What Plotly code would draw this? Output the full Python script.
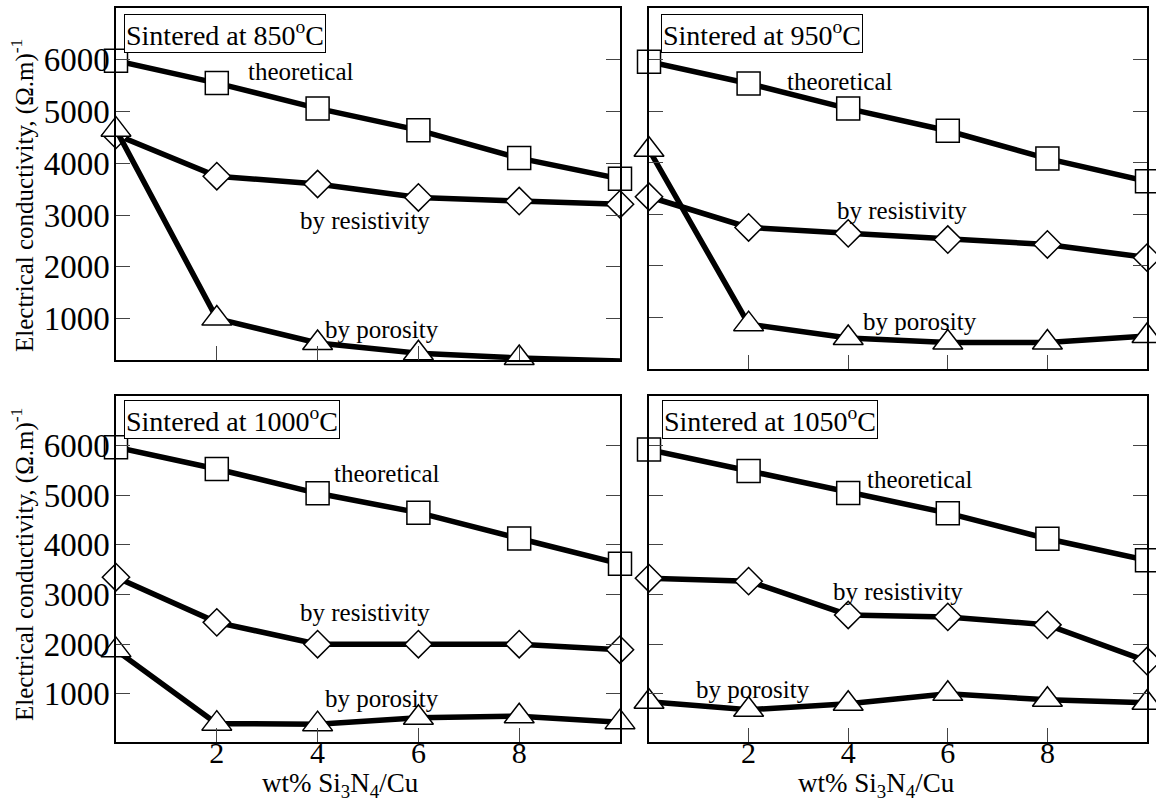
import plotly.graph_objects as go

W, H = 1156, 805

x_wt = [0, 2, 4, 6, 8, 10]

# 850 C
t850_theo = [5980, 5550, 5060, 4640, 4100, 3700]
t850_res = [4550, 3750, 3600, 3340, 3270, 3210]
t850_por = [4650, 1000, 530, 330, 240, 180]
# 950 C
t950_theo = [5960, 5535, 5050, 4620, 4080, 3640]
t950_res = [3340, 2745, 2630, 2510, 2415, 2160]
t950_por = [4250, 870, 600, 515, 515, 640]
# 1000 C
t1000_theo = [5970, 5530, 5040, 4650, 4130, 3620]
t1000_res = [3350, 2440, 2000, 2000, 2000, 1890]
t1000_por = [1880, 400, 390, 520, 550, 430]
# 1050 C
t1050_theo = [5920, 5490, 5045, 4640, 4125, 3690]
t1050_res = [3330, 3270, 2590, 2550, 2390, 1660]
t1050_por = [840, 680, 800, 1000, 880, 820]

panel_titles = ["Sintered at 850<sup>o</sup>C", "Sintered at 950<sup>o</sup>C",
                "Sintered at 1000<sup>o</sup>C", "Sintered at 1050<sup>o</sup>C"]
series_names = ["theoretical", "by resistivity", "by porosity"]
y_ticks = [1000, 2000, 3000, 4000, 5000, 6000]
x_ticks = [2, 4, 6, 8]

panels = [
    (t850_theo, t850_res, t850_por),
    (t950_theo, t950_res, t950_por),
    (t1000_theo, t1000_res, t1000_por),
    (t1050_theo, t1050_res, t1050_por),
]

# pixel geometry (left, right, top, bottom) and y ranges
geom = [
    (116, 620, 8, 360, [200, 7000]),
    (649, 1147, 8, 369, [0, 7000]),
    (116, 620, 396, 742, [30, 7000]),
    (649, 1147, 396, 742, [30, 7000]),
]

# label positions in data coords per panel: (x, y) for theoretical, resistivity, porosity
label_pos = [
    [(3.67, 5770), (4.94, 2900), (5.28, 780)],
    [(3.84, 5570), (5.08, 3070), (5.44, 920)],
    [(5.38, 5430), (4.94, 2640), (5.28, 900)],
    [(5.44, 5310), (5.00, 3060), (2.08, 1080)],
]

title_box = [(124, 14), (661, 14), (124, 400), (662, 400)]

FONT = "Liberation Serif, Times New Roman, Times, DejaVu Serif, serif"
symbols = ["square", "diamond", "triangle-up"]
sizes = [23, 21, 26]

fig = go.Figure()
layout = {}
annotations = []

for i, (series, (l, r, t, b, yr)) in enumerate(zip(panels, geom)):
    k = "" if i == 0 else str(i + 1)
    xa, ya = "x" + k, "y" + k
    for s, sym, sz, nm in zip(series, symbols, sizes, series_names):
        fig.add_trace(go.Scatter(
            x=x_wt, y=s, mode="lines+markers", name=nm, showlegend=False,
            xaxis=xa, yaxis=ya, cliponaxis=False,
            line=dict(color="black", width=5.5),
            marker=dict(symbol=sym, size=sz, color="white",
                        line=dict(color="black", width=1.5)),
        ))
    bottom_row = i >= 2
    left_col = i % 2 == 0
    layout["xaxis" + k] = dict(
        domain=[l / W, r / W], range=[0, 10], anchor=ya,
        tickvals=x_ticks, ticks="inside", ticklen=14, tickwidth=1.2,
        showticklabels=bottom_row, showline=True, linecolor="black",
        linewidth=1.5, mirror=True, showgrid=False, zeroline=False,
        ticklabelstandoff=-17,
        tickfont=dict(family=FONT, size=30, color="black"),
    )
    layout["yaxis" + k] = dict(
        domain=[1 - b / H, 1 - t / H], range=yr, anchor=xa,
        tickvals=y_ticks, ticks="inside", ticklen=14, tickwidth=1.2,
        showticklabels=left_col, showline=True, linecolor="black",
        linewidth=1.5, mirror="ticks", showgrid=False, zeroline=False,
        ticklabelstandoff=-2,
        tickfont=dict(family=FONT, size=33, color="black"),
    )
    for (lx, ly), nm in zip(label_pos[i], series_names):
        annotations.append(dict(
            x=lx, y=ly, xref=xa, yref=ya, text=nm, showarrow=False,
            font=dict(family=FONT, size=25, color="black"),
            xanchor="center", yanchor="middle",
        ))
    bx, by = title_box[i]
    annotations.append(dict(
        x=bx / W, y=1 - by / H, xref="paper", yref="paper",
        text=panel_titles[i], showarrow=False, xanchor="left", yanchor="top",
        font=dict(family=FONT, size=28, color="black"),
        bordercolor="black", borderwidth=1, borderpad=1, bgcolor="white",
    ))

# y axis titles
for cy in (196, 565):
    annotations.append(dict(
        x=22 / W, y=1 - cy / H, xref="paper", yref="paper",
        text="Electrical conductivity, (\u03a9.m)<sup>-1</sup>", textangle=-90,
        showarrow=False, xanchor="center", yanchor="middle",
        font=dict(family=FONT, size=25, color="black"),
    ))
# x axis titles
for cx in (340, 876):
    annotations.append(dict(
        x=cx / W, y=0, xref="paper", yref="paper",
        text="wt% Si<sub>3</sub>N<sub>4</sub>/Cu", showarrow=False,
        xanchor="center", yanchor="bottom", yshift=1,
        font=dict(family=FONT, size=27, color="black"),
    ))

fig.update_layout(
    width=W, height=H, margin=dict(l=0, r=0, t=0, b=0),
    paper_bgcolor="white", plot_bgcolor="white",
    annotations=annotations, **layout,
)

fig.write_html("out.html")
